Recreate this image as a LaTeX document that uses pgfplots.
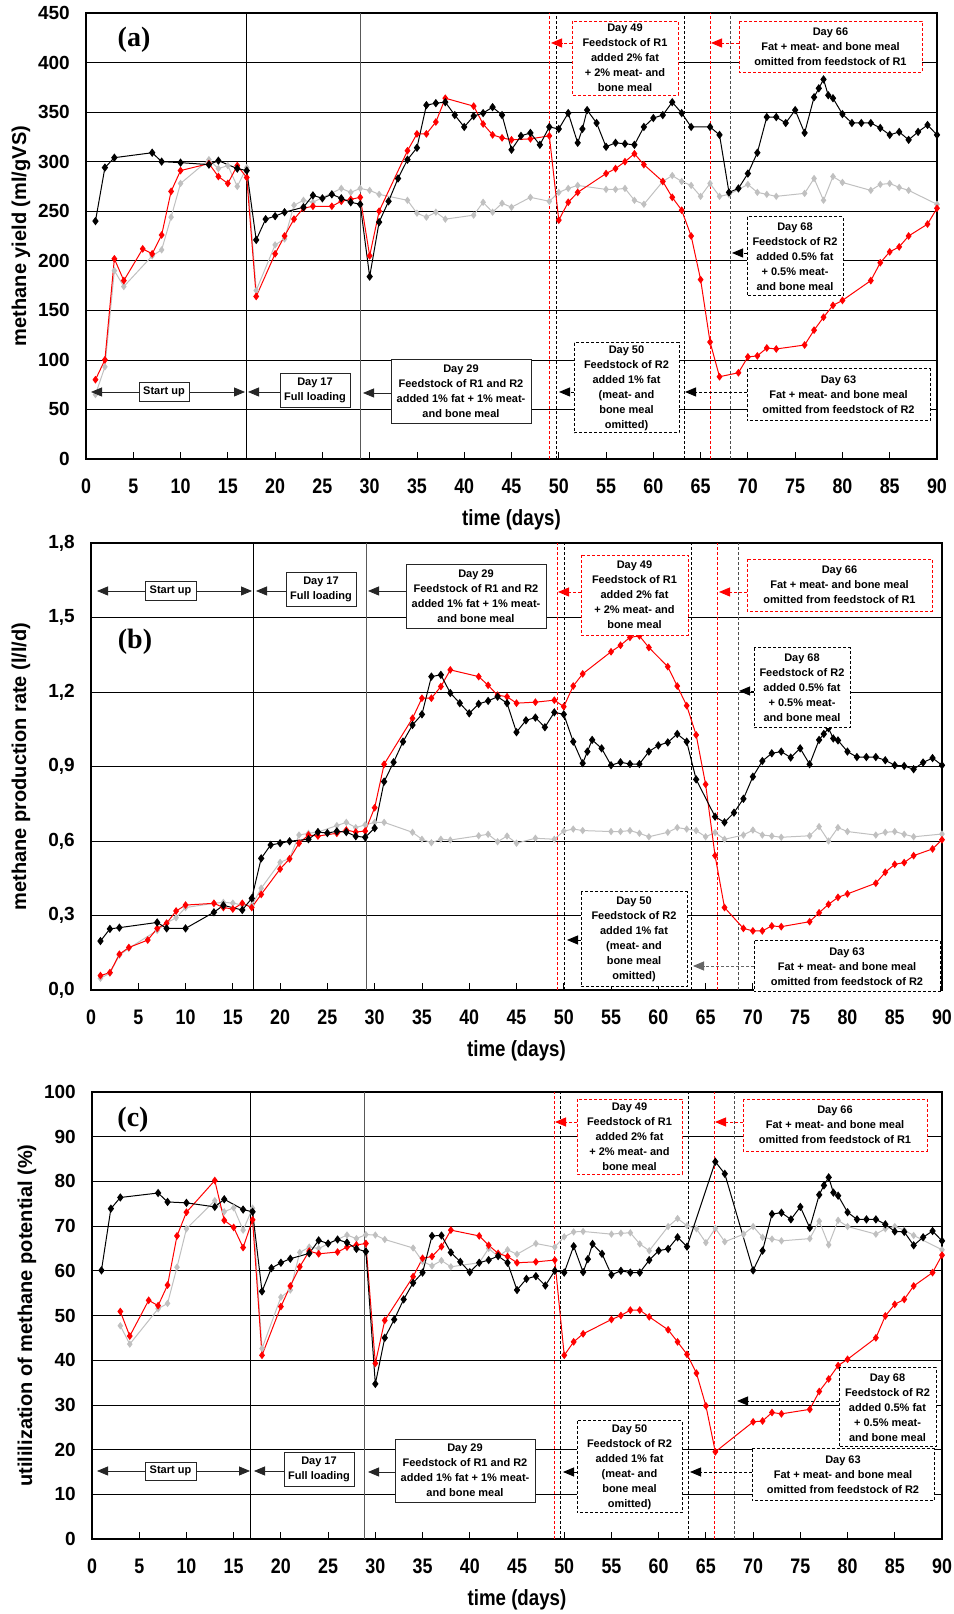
\documentclass[border=0pt]{standalone}
\usepackage{fontspec}
\setmainfont{Liberation Sans}
\newfontfamily\narrowfont[FakeStretch=0.85]{Liberation Sans}
\newfontfamily\serifbf{Liberation Serif}
\usepackage{pgfplots}
\pgfplotsset{compat=1.18}
\usetikzlibrary{arrows.meta}
\definecolor{lgrey}{RGB}{192,192,192}
\newcommand{\annfont}{\bfseries\fontsize{11}{15}\selectfont}
\newcommand{\abox}[6]{\draw[#1] (#2,#3) rectangle (#4,#5);
 \node[inner sep=0pt, align=center, font=\annfont] at ({(#2+#4)/2},{(#3+#5)/2}) {#6};}
\tikzset{
 sbox/.style={draw=black!85, line width=0.8pt, fill=white},
 rbox/.style={draw=red, line width=0.9pt, dash pattern=on 3pt off 2pt, fill=white},
 kbox/.style={draw=black, line width=1pt, dash pattern=on 3pt off 2pt, fill=white},
 sarr/.style={black!85, line width=0.8pt, -{Triangle[length=11pt,width=9pt]}},
 rarr/.style={red, line width=0.9pt, dash pattern=on 3pt off 2pt, -{Triangle[length=11pt,width=9pt]}},
 karr/.style={black, line width=0.9pt, dash pattern=on 3pt off 2pt, -{Triangle[length=11pt,width=9pt]}},
 evs/.style={black, line width=0.8pt},
 evg/.style={black!65, line width=0.9pt},
 evr/.style={red, line width=0.8pt, dash pattern=on 3pt off 2pt},
 evk/.style={black, line width=0.8pt, dash pattern=on 3pt off 2pt},
 evkg/.style={black!70, line width=0.8pt, dash pattern=on 3pt off 2pt},
}
\pgfplotsset{
 panel/.style={
  scale only axis, height=446pt, anchor=south west,
  xmin=0, xmax=90, xtick={0,5,...,90},
  tick align=inside, tick pos=left, major tick length=7pt,
  ytick style={draw=none}, xtick style={black, line width=0.8pt},
  ymajorgrids, major grid style={black, line width=0.7pt},
  axis line style={black, line width=1.2pt},
  clip=false,
  /pgf/number format/assume math mode=true,
  xticklabel style={font=\narrowfont\bfseries\fontsize{21}{21}\selectfont, anchor=center, yshift=-27pt},
  yticklabel style={font=\bfseries\fontsize{19}{19}\selectfont, inner sep=0pt, anchor=east, xshift=-16pt},
  xlabel={time (days)},
  xlabel style={font=\narrowfont\bfseries\fontsize{22}{22}\selectfont, at={(axis description cs:0.5,0)}, anchor=center, yshift=-61pt},
  ylabel style={font=\bfseries\fontsize{20}{20}\selectfont, anchor=center},
 },
 gplot/.style={color=lgrey, line width=1pt, mark=diamond*, mark size=2.9pt, mark options={solid, fill=lgrey}},
 rplot/.style={color=red, line width=1pt, mark=diamond*, mark size=3.1pt, mark options={solid, fill=red}},
 kplot/.style={color=black, line width=1pt, mark=diamond*, mark size=3.4pt, mark options={solid, fill=black}},
}
\begin{document}
\begin{tikzpicture}
\path[use as bounding box] (0,0) rectangle (953pt,1614pt);

%% ---------------- panel (a)
\begin{axis}[panel, at={(86pt,1155pt)}, width=851pt,
  ymin=0, ymax=450, ytick={0,50,...,450},
  ylabel={methane yield (ml/gVS)},
  ylabel style={at={(axis description cs:-0.0764,0.5)}}]
\draw[evs] (axis cs:17,0) -- (axis cs:17,450);
\draw[evg] (axis cs:29,0) -- (axis cs:29,450);
\draw[evr] (axis cs:49,0) -- (axis cs:49,450);
\draw[evk] (axis cs:49.8,0) -- (axis cs:49.8,450);
\draw[evk] (axis cs:63.3,0) -- (axis cs:63.3,450);
\draw[evr] (axis cs:66,0) -- (axis cs:66,450);
\draw[evkg] (axis cs:68.1,0) -- (axis cs:68.1,450);
\addplot[gplot] table {
1 65
2 93
3 190
4 174
7 205
8 211
9 244
10 278
13 302
14 293
15 296
16 275
17 294
18 170
20 216
21 222
22 256
23 261
24 259
27 273
28 269
29 273
30 271
31 267
34 261
35 248
36 244
37 249
38 242
41 246
42 259
43 249
44 258
45 254
47 264
49 260
50 269
51 273
52 276
55 272
56 272
57 273
58 261
59 257
61 280
62 286
63 280
64 276
65 265
66 278
67 265
68 267
70 277
71 269
72 267
73 265
76 268
77 283
78 261
79 285
80 279
83 271
84 277
85 278
86 274
87 271
90 257
};
\addplot[rplot] table {
1 80
2 100
3 202
4 180
6 212
7 207
8 226
9 270
10 291
13 298
14 285
15 278
16 296
17 284
18 164
20 207
21 225
22 242
23 253
24 255
26 255
27 260
28 262
29 264
30 205
31 250
34 311
35 328
36 328
37 340
38 364
41 356
42 338
43 327
44 324
45 322
47 323
49 326
50 241
51 259
52 269
55 288
56 293
57 300
58 308
59 297
61 280
62 264
63 251
64 225
65 181
66 118
67 83
69 87
70 103
71 104
72 112
73 111
76 115
77 130
78 143
79 155
80 160
83 180
84 198
85 209
86 214
87 225
89 237
90 253
};
\addplot[kplot] table {
1 240
2 294
3 304
7 309
8 300
10 299
13 297
14 301
16 293
17 291
18 221
19 242
20 245
21 249
23 254
24 266
25 263
26 267
27 263
28 259
29 257
30 184
31 239
32 260
33 283
34 302
35 314
36 357
37 359
38 360
39 347
40 335
41 346
42 349
43 355
44 347
45 312
46 326
47 329
48 317
49 335
50 333
51 349
52 319
52.5 333
53 352
54 339
55 315
56 319
57 318
58 317
59 335
60 344
61 347
62 360
63 349
64 335
66 335
67 327
68 269
69 273
70 288
71 309
72 345
73 345
74 339
75 352
76 329
77 365
77.5 374
78 383
78.5 367
79 364
80 348
81 339
82 339
83 339
84 334
85 327
86 330
87 322
88 330
89 337
90 327
};
\end{axis}

%% ---------------- panel (b)
\begin{axis}[panel, at={(91pt,624pt)}, width=851pt, height=447pt,
  ymin=0, ymax=1.8, ytick={0,0.3,0.6,0.9,1.2,1.5,1.8},
  yticklabel style={/pgf/number format/.cd, fixed, fixed zerofill, precision=1, use comma},
  ylabel={methane production rate (l/l/d)},
  ylabel style={at={(axis description cs:-0.0823,0.5)}}]
\draw[evs] (axis cs:17.15,0) -- (axis cs:17.15,1.8);
\draw[evg] (axis cs:29.15,0) -- (axis cs:29.15,1.8);
\draw[evr] (axis cs:49.3,0) -- (axis cs:49.3,1.8);
\draw[evk] (axis cs:50.1,0) -- (axis cs:50.1,1.8);
\draw[evk] (axis cs:63.5,0) -- (axis cs:63.5,1.8);
\draw[evr] (axis cs:66.2,0) -- (axis cs:66.2,1.8);
\draw[evkg] (axis cs:68.45,0) -- (axis cs:68.45,1.8);
\addplot[gplot] table {
1 0.047
2 0.068
3 0.140
4 0.168
7 0.240
8 0.270
9 0.291
10 0.332
13 0.349
14 0.353
15 0.350
16 0.342
17 0.340
18 0.410
20 0.514
21 0.530
22 0.624
23 0.631
24 0.636
26 0.662
27 0.675
28 0.654
29 0.665
30 0.675
31 0.675
34 0.635
35 0.607
36 0.593
37 0.607
38 0.604
41 0.621
42 0.627
43 0.597
44 0.620
45 0.591
47 0.611
49 0.607
50 0.640
51 0.648
52 0.642
55 0.638
56 0.638
57 0.642
58 0.631
59 0.617
61 0.635
62 0.654
63 0.648
64 0.642
65 0.617
66 0.634
67 0.607
69 0.624
70 0.644
71 0.624
72 0.620
73 0.615
76 0.621
77 0.658
78 0.600
79 0.654
80 0.638
83 0.624
84 0.635
85 0.638
86 0.627
87 0.617
90 0.628
};
\addplot[rplot] table {
1 0.058
2 0.070
3 0.144
4 0.171
6 0.201
7 0.248
8 0.269
9 0.318
10 0.342
13 0.349
14 0.332
15 0.326
16 0.349
17 0.332
18 0.385
20 0.487
21 0.528
22 0.591
23 0.624
24 0.620
26 0.631
27 0.644
28 0.636
29 0.640
30 0.734
31 0.909
34 1.094
35 1.175
36 1.175
37 1.222
38 1.289
41 1.262
42 1.227
43 1.187
44 1.181
45 1.155
47 1.159
49 1.167
50 1.141
51 1.224
52 1.273
55 1.362
56 1.388
57 1.420
58 1.426
59 1.379
61 1.302
62 1.224
63 1.145
64 1.027
65 0.828
66 0.541
67 0.332
69 0.248
70 0.238
71 0.238
72 0.258
73 0.255
76 0.275
77 0.311
78 0.345
79 0.373
80 0.387
83 0.430
84 0.474
85 0.506
86 0.513
87 0.541
89 0.568
90 0.605
};
\addplot[kplot] table {
1 0.197
2 0.246
3 0.251
7 0.272
8 0.248
10 0.248
13 0.313
14 0.341
16 0.322
17 0.369
18 0.530
19 0.584
20 0.591
21 0.599
23 0.607
24 0.636
25 0.632
26 0.639
27 0.636
28 0.619
29 0.615
30 0.652
31 0.839
32 0.917
33 1.000
34 1.067
35 1.110
36 1.262
37 1.269
38 1.196
39 1.155
40 1.114
41 1.152
42 1.164
43 1.181
44 1.155
45 1.038
46 1.086
47 1.097
48 1.058
49 1.118
50 1.110
51 1.000
52 0.913
52.5 0.960
53 1.007
54 0.973
55 0.905
56 0.917
57 0.910
58 0.910
59 0.960
60 0.985
61 0.997
62 1.031
63 1.000
64 0.848
66 0.698
67 0.675
68 0.714
69 0.770
70 0.859
71 0.922
72 0.953
73 0.960
74 0.936
75 0.973
76 0.909
77 1.007
77.5 1.031
78 1.054
78.5 1.013
79 1.005
80 0.960
81 0.938
82 0.938
83 0.938
84 0.925
85 0.905
86 0.902
87 0.889
88 0.916
89 0.934
90 0.905
};
\end{axis}

%% ---------------- panel (c)
\begin{axis}[panel, at={(92pt,75pt)}, width=850pt, height=447pt,
  ymin=0, ymax=100, ytick={0,10,...,100},
  ylabel={utililization of methane potential (\%)},
  ylabel style={at={(axis description cs:-0.0765,0.5)}}]
\draw[evs] (axis cs:16.8,0) -- (axis cs:16.8,100);
\draw[evg] (axis cs:28.9,0) -- (axis cs:28.9,100);
\draw[evr] (axis cs:48.95,0) -- (axis cs:48.95,100);
\draw[evk] (axis cs:49.6,0) -- (axis cs:49.6,100);
\draw[evk] (axis cs:63.2,0) -- (axis cs:63.2,100);
\draw[evr] (axis cs:65.9,0) -- (axis cs:65.9,100);
\draw[evkg] (axis cs:68,0) -- (axis cs:68,100);
\addplot[gplot] table {
3 47.7
4 43.6
7 51.5
8 52.7
9 60.8
10 69.4
13 75.7
14 73.2
15 74.1
16 69.1
17 74.0
18 42.6
20 54.1
21 55.7
22 64.1
23 65.3
24 65.0
27 68.0
28 67.2
29 68.1
30 68.0
31 67.0
34 65.1
35 62.1
36 61.1
37 62.3
38 60.9
41 61.8
42 65.0
43 63.2
44 64.7
45 63.7
47 66.1
49 65.3
50 67.6
51 68.7
52 68.8
55 68.2
56 68.4
57 68.5
58 66.0
59 64.5
61 69.9
62 71.7
63 70.1
64 69.4
65 66.3
66 69.5
67 66.5
69 68.2
70 69.9
71 67.5
72 67.1
73 66.7
76 67.2
77 71.1
78 65.8
79 71.3
80 69.9
83 68.2
84 69.4
85 69.9
86 69.1
87 67.9
90 64.7
};
\addplot[rplot] table {
3 50.9
4 45.4
6 53.4
7 52.2
8 56.8
9 67.8
10 73.1
13 80.2
14 71.3
15 69.7
16 65.2
17 71.4
18 41.1
20 52.0
21 56.6
22 60.9
23 64.4
24 63.8
26 64.2
27 65.3
28 65.8
29 66.1
30 39.3
31 48.9
34 58.7
35 62.8
36 63.2
37 65.4
38 69.1
41 67.8
42 65.7
43 63.9
44 63.2
45 61.8
47 62.0
49 62.4
50 41.1
51 44.1
52 45.9
55 49.1
56 50.0
57 51.2
58 51.2
59 49.7
61 46.8
62 44.1
63 41.3
64 37.1
65 29.8
66 19.5
70 26.2
71 26.4
72 28.3
73 28.0
76 29.0
77 33.0
78 35.8
79 38.8
80 40.2
83 45.0
84 49.9
85 52.5
86 53.6
87 56.6
89 59.6
90 63.5
};
\addplot[kplot] table {
1 60.1
2 73.9
3 76.4
7 77.4
8 75.4
10 75.2
13 74.3
14 76.0
16 73.7
17 73.2
18 55.4
19 60.6
20 61.8
21 62.7
23 63.9
24 66.8
25 66.1
26 67.0
27 66.3
28 64.9
29 64.3
30 34.7
31 45.0
32 49.1
33 53.6
34 57.3
35 59.6
36 67.8
37 67.9
38 64.1
39 62.0
40 59.7
41 61.8
42 62.4
43 63.3
44 61.8
45 55.7
46 58.2
47 58.8
48 56.7
49 60.0
50 59.6
51 65.5
52 59.7
52.5 62.6
53 66.0
54 63.8
55 59.1
56 60.0
57 59.6
58 59.6
59 62.4
60 64.5
61 64.9
62 67.5
63 65.4
66 84.4
67 81.7
70 60.1
71 64.5
72 72.7
73 73.0
74 71.5
75 74.3
76 69.6
77 77.0
77.5 79.1
78 80.9
78.5 77.5
79 76.8
80 73.1
81 71.5
82 71.5
83 71.5
84 70.4
85 68.8
86 68.7
87 65.7
88 67.5
89 68.9
90 66.7
};
\end{axis}

%% ---------------- annotations (pixel coordinates, y downwards)
\begin{scope}[x=1pt, y=-1pt, yshift=1614pt]
% panel labels
\node[font=\serifbf\bfseries\fontsize{28}{28}\selectfont] at (134,40) {(a)};
\node[font=\serifbf\bfseries\fontsize{28}{28}\selectfont] at (135,642) {(b)};
\node[font=\serifbf\bfseries\fontsize{28}{28}\selectfont] at (133,1120) {(c)};

% ---- panel a
\draw[black!85, line width=0.8pt, {Triangle[length=11pt,width=9pt]}-{Triangle[length=11pt,width=9pt]}] (91,392) -- (245,392);
\draw[sarr] (280,392) -- (248,392);
\draw[sarr] (391,393) -- (363,393);
\draw[rarr] (572,43) -- (551,43);
\draw[rarr] (739,43) -- (711,43);
\draw[karr] (747,253) -- (732,253);
\draw[karr] (574,392) -- (559,392);
\draw[karr] (747,392) -- (685,392);
\abox{sbox}{139}{382}{189}{401}{Start up}
\abox{sbox}{280}{373}{350}{407}{Day 17\\Full loading}
\abox{sbox}{391}{359}{531}{423}{Day 29\\Feedstock of R1 and R2\\added 1\% fat + 1\% meat-\\and bone meal}
\abox{rbox}{572}{21}{678}{95}{Day 49\\Feedstock of R1\\added 2\% fat\\+ 2\% meat- and\\bone meal}
\abox{rbox}{739}{21}{922}{72}{Day 66\\Fat + meat- and bone meal\\omitted from feedstock of R1}
\abox{kbox}{747}{217}{843}{296}{Day 68\\Feedstock of R2\\added 0.5\% fat\\+ 0.5\% meat-\\and bone meal}
\abox{kbox}{574}{343}{679}{433}{Day 50\\Feedstock of R2\\added 1\% fat\\(meat- and\\bone meal\\omitted)}
\abox{kbox}{747}{369}{930}{421}{Day 63\\Fat + meat- and bone meal\\omitted from feedstock of R2}

% ---- panel b
\draw[black!85, line width=0.8pt, {Triangle[length=11pt,width=9pt]}-{Triangle[length=11pt,width=9pt]}] (97,591) -- (252,591);
\draw[sarr] (286,591) -- (256,591);
\draw[sarr] (406,591) -- (368,591);
\draw[rarr] (581,592) -- (558,592);
\draw[rarr] (747,592) -- (719,592);
\draw[karr] (754,691) -- (739,691);
\draw[karr] (581,940) -- (567,940);
\draw[karr, black!60] (754,966) -- (693,966);
\abox{sbox}{145}{581}{196}{600}{Start up}
\abox{sbox}{286}{572}{356}{606}{Day 17\\Full loading}
\abox{sbox}{406}{564}{546}{628}{Day 29\\Feedstock of R1 and R2\\added 1\% fat + 1\% meat-\\and bone meal}
\abox{rbox}{581}{555}{688}{635}{Day 49\\Feedstock of R1\\added 2\% fat\\+ 2\% meat- and\\bone meal}
\abox{rbox}{747}{559}{932}{611}{Day 66\\Fat + meat- and bone meal\\omitted from feedstock of R1}
\abox{kbox}{754}{648}{850}{728}{Day 68\\Feedstock of R2\\added 0.5\% fat\\+ 0.5\% meat-\\and bone meal}
\abox{kbox}{581}{892}{687}{987}{Day 50\\Feedstock of R2\\added 1\% fat\\(meat- and\\bone meal\\omitted)}
\abox{kbox}{754}{941}{940}{992}{Day 63\\Fat + meat- and bone meal\\omitted from feedstock of R2}

% ---- panel c
\draw[black!85, line width=0.8pt, {Triangle[length=11pt,width=9pt]}-{Triangle[length=11pt,width=9pt]}] (97,1471) -- (250,1471);
\draw[sarr] (284,1471) -- (254,1471);
\draw[sarr] (395,1472) -- (368,1472);
\draw[rarr] (577,1122) -- (555,1122);
\draw[rarr] (743,1122) -- (715,1122);
\draw[karr] (839,1401) -- (737,1401);
\draw[karr] (577,1472) -- (563,1472);
\draw[karr] (752,1472) -- (690,1472);
\abox{sbox}{145}{1462}{196}{1480}{Start up}
\abox{sbox}{284}{1452}{354}{1486}{Day 17\\Full loading}
\abox{sbox}{395}{1439}{535}{1502}{Day 29\\Feedstock of R1 and R2\\added 1\% fat + 1\% meat-\\and bone meal}
\abox{rbox}{577}{1099}{682}{1174}{Day 49\\Feedstock of R1\\added 2\% fat\\+ 2\% meat- and\\bone meal}
\abox{rbox}{743}{1099}{927}{1151}{Day 66\\Fat + meat- and bone meal\\omitted from feedstock of R1}
\abox{kbox}{839}{1368}{936}{1447}{Day 68\\Feedstock of R2\\added 0.5\% fat\\+ 0.5\% meat-\\and bone meal}
\abox{kbox}{577}{1421}{682}{1513}{Day 50\\Feedstock of R2\\added 1\% fat\\(meat- and\\bone meal\\omitted)}
\abox{kbox}{752}{1449}{934}{1501}{Day 63\\Fat + meat- and bone meal\\omitted from feedstock of R2}
\end{scope}
\end{tikzpicture}
\end{document}
